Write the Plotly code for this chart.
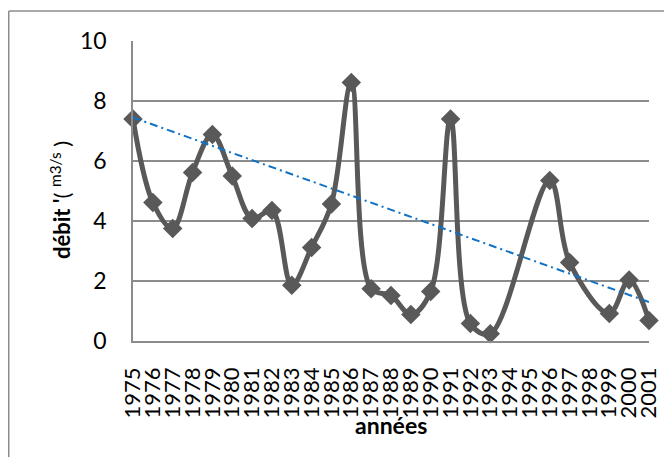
import plotly.graph_objects as go

years = list(range(1975, 2002))
year_labels = [str(y) for y in years]
debit = [7.4, 4.62, 3.75, 5.62, 6.88, 5.5, 4.08, 4.35, 1.86, 3.12, 4.57, 8.62, 1.74,
         1.52, 0.88, 1.65, 7.4, 0.58, 0.24, None, None, 5.35, 2.62, None, 0.92, 2.03, 0.68]
trend_years = [1975, 2001]
trend_values = [7.45, 1.3]
y_ticks = [0, 2, 4, 6, 8, 10]

FONT = "Lato, 'Open Sans', 'Liberation Sans', sans-serif"
GRID = "#8c8c8c"

# page body has an 8px default margin: the figure is sized/offset to compensate
W, H = 664, 449
L, R, T, B = 125, 23, 33, 116
PW, PH = W - L - R, H - T - B

def px_x(page_x):
    return (page_x - 8 - L) / PW

def px_y(page_y):
    return (H - B - (page_y - 8)) / PH

fig = go.Figure()
fig.add_trace(go.Scatter(
    x=years, y=debit, mode="lines+markers", connectgaps=True,
    line=dict(color="#595959", width=5, shape="spline", smoothing=1),
    marker=dict(symbol="diamond", size=15, color="#595959"),
    showlegend=False, cliponaxis=False,
))
fig.add_trace(go.Scatter(
    x=trend_years, y=trend_values, mode="lines",
    line=dict(color="#1172C4", width=2, dash="8px,4px,2px,4px"),
    showlegend=False, cliponaxis=False,
))

fig.update_layout(
    width=W, height=H,
    margin=dict(l=L, r=R, t=T, b=B, autoexpand=False),
    paper_bgcolor="white", plot_bgcolor="white",
    font=dict(family=FONT, color="black"),
    xaxis=dict(
        range=[1975, 2001], tickmode="array", tickvals=years, ticktext=year_labels,
        tickangle=-90, tickfont=dict(size=22, family=FONT), showgrid=False,
        showline=True, linecolor=GRID, linewidth=1.5, ticks="", zeroline=False,
        ticklabelstandoff=16, automargin=False,
    ),
    yaxis=dict(
        range=[0, 10], tickmode="array", tickvals=y_ticks,
        tickfont=dict(size=23, family=FONT), showgrid=True, gridcolor=GRID, gridwidth=1.5,
        showline=True, linecolor=GRID, linewidth=1.5, ticks="", zeroline=False,
        ticklabelstandoff=20, automargin=False,
    ),
    annotations=[
        dict(text="<b>années</b>", xref="paper", yref="paper", x=px_x(391), y=px_y(425),
             xanchor="center", yanchor="middle", showarrow=False,
             font=dict(size=23, family=FONT)),
        dict(text="<b>débit '</b>( <sup>m3/s</sup> )",
             xref="paper", yref="paper", x=px_x(60), y=px_y(200), textangle=-90,
             xanchor="center", yanchor="middle", showarrow=False,
             font=dict(size=22, family=FONT)),
    ],
    shapes=[
        dict(type="line", xref="paper", yref="paper", x0=px_x(8.75), x1=1.3, y0=px_y(11), y1=px_y(11),
             line=dict(color=GRID, width=1.5)),
        dict(type="line", xref="paper", yref="paper", x0=px_x(8.75), x1=px_x(8.75), y0=px_y(11), y1=-0.6,
             line=dict(color=GRID, width=1.5)),
    ],
)

fig.write_html("out.html")
